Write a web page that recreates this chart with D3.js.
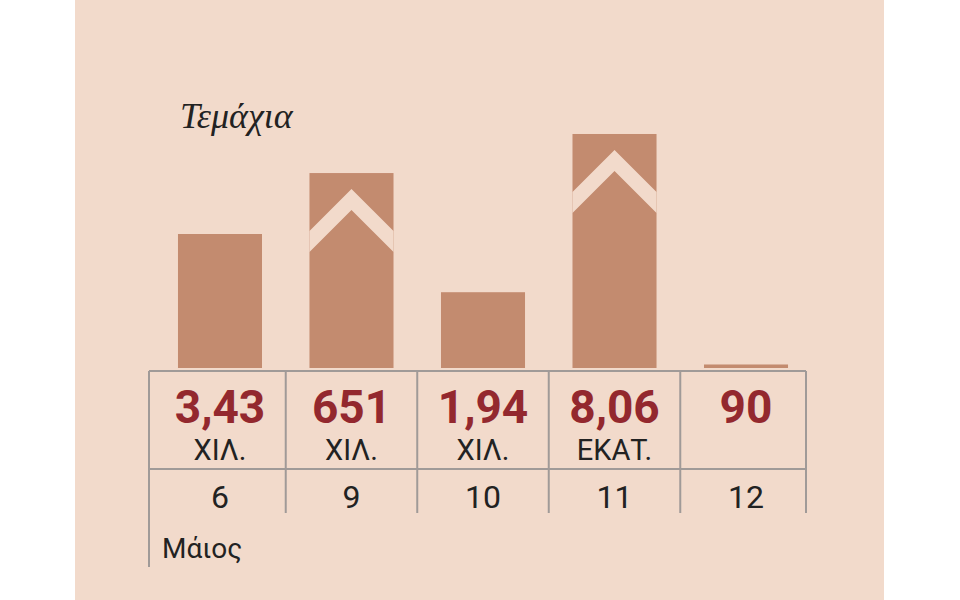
<!DOCTYPE html>
<html><head><meta charset="utf-8">
<script src="https://cdn.jsdelivr.net/npm/d3@7"></script>
<style>body{margin:0;background:#fff}</style></head>
<body><svg id="c" width="960" height="600"></svg>
<script>
const categories = ["6","9","10","11","12"];
const values = [3430, 651000, 1940, 8060000, 90];
const valueLabels = ["3,43","651","1,94","8,06","90"];
const unitLabels = ["ΧΙΛ.","ΧΙΛ.","ΧΙΛ.","ΕΚΑΤ.",""];
const brokenCap = [null, 4990, null, 5990, null];
const title = "Τεμάχια";
const monthLabel = "Μάιος";

const bg = "#f2dacb", barC = "#c38b6f", red = "#93282e", grey = "#a09a98";
const svg = d3.select("#c");
svg.append("rect").attr("x",75).attr("y",0).attr("width",809).attr("height",600).attr("fill",bg);

const x = d3.scaleBand().domain(categories).range([154.3, 811.7]).paddingInner(0.361).paddingOuter(0.18);
const y = d3.scaleLinear().domain([0, 3430]).range([368, 234]);

categories.forEach((c,i)=>{
  const v = brokenCap[i] !== null ? brokenCap[i] : values[i];
  const x0 = x(c), w = x.bandwidth(), top = y(v);
  svg.append("rect").attr("x",x0).attr("y",top).attr("width",w).attr("height",Math.max(2,368-top)).attr("fill",barC);
  if (brokenCap[i] !== null) {
    const apex = top + 16, cx = x0 + w/2, half = w/2, t = 21;
    svg.append("path").attr("fill",bg).attr("d",
      `M${x0},${apex+half} L${cx},${apex} L${x0+w},${apex+half} L${x0+w},${apex+half+t} L${cx},${apex+t} L${x0},${apex+half+t}Z`);
  }
  const cx = x0 + w/2;
  svg.append("text").attr("x",cx).attr("y",423).attr("text-anchor","middle")
    .attr("font-family","'Liberation Sans Narrow','Roboto',sans-serif").attr("font-weight","bold")
    .attr("font-size",46).attr("fill",red).text(valueLabels[i]);
  svg.append("text").attr("x",cx).attr("y",460).attr("text-anchor","middle")
    .attr("font-family","'Liberation Sans Narrow','Roboto',sans-serif")
    .attr("font-size",29).attr("fill","#222").text(unitLabels[i]);
  svg.append("text").attr("x",cx).attr("y",508).attr("text-anchor","middle")
    .attr("font-family","'Liberation Sans Narrow','Roboto',sans-serif")
    .attr("font-size",32).attr("fill","#222").text(c);
});

// grid
const bounds = [149];
for (let i=0;i<categories.length-1;i++) bounds.push((x(categories[i])+x.bandwidth()+x(categories[i+1]))/2);
bounds.push(806);
svg.append("line").attr("x1",149).attr("x2",806).attr("y1",371).attr("y2",371).attr("stroke",grey).attr("stroke-width",2);
svg.append("line").attr("x1",149).attr("x2",806).attr("y1",469).attr("y2",469).attr("stroke",grey).attr("stroke-width",2);
bounds.forEach((b,i)=>{
  svg.append("line").attr("x1",b).attr("x2",b).attr("y1",371).attr("y2",i===0?567:513).attr("stroke",grey).attr("stroke-width",2);
});

svg.append("text").attr("x",180).attr("y",128).attr("font-family","'Liberation Serif',serif")
  .attr("font-style","italic").attr("font-size",36).attr("fill","#222").text(title);
svg.append("text").attr("x",162).attr("y",558).attr("font-family","'Liberation Sans Narrow','Roboto',sans-serif")
  .attr("font-size",28).attr("fill","#222").text(monthLabel);
</script></body></html>
